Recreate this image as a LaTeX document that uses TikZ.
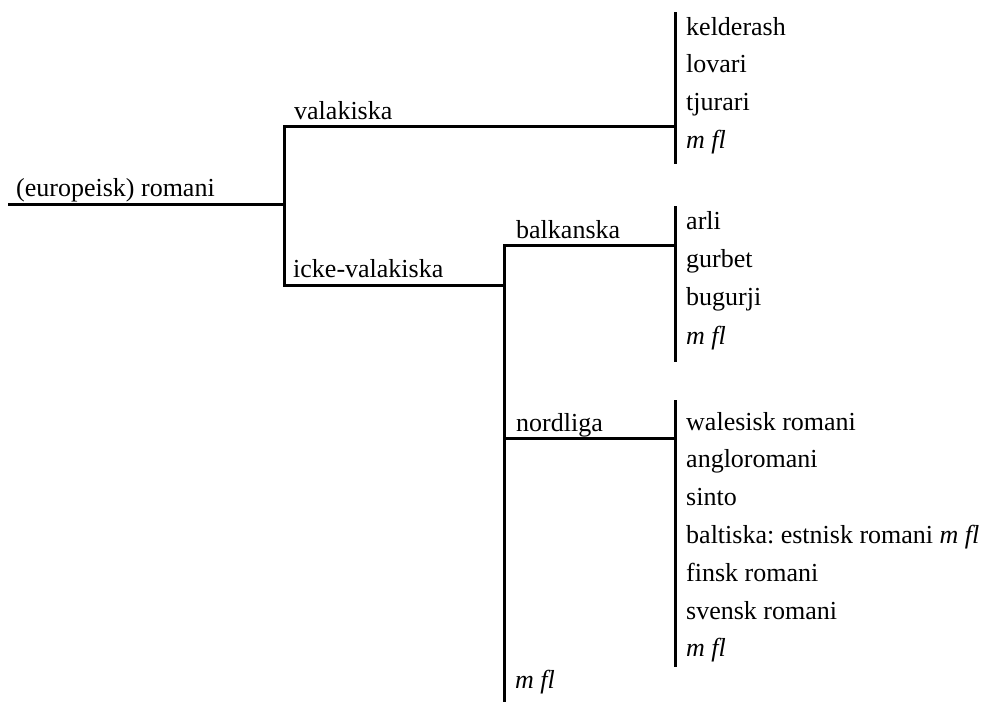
\documentclass[tikz,border=0pt]{standalone}
\usepackage{fontspec}
\setmainfont{Liberation Serif}
\frenchspacing
\begin{document}
\begin{tikzpicture}[x=1pt,y=-1pt,
  br/.style={line width=3pt,line join=miter},
  lab/.style={anchor=base west,inner sep=0pt,font=\fontsize{26}{30}\selectfont}]
\useasboundingbox (0,0) rectangle (988,702);
% junction coordinates
\coordinate (r0) at (8,204);
\coordinate (r1) at (284,204);
\coordinate (v0) at (284,126);
\coordinate (v1) at (675,126);
\coordinate (vt) at (675,12);
\coordinate (vb) at (675,164);
\coordinate (i0) at (284,285);
\coordinate (i1) at (504,285);
\coordinate (m0) at (504,245);
\coordinate (mb) at (504,702);
\coordinate (b1) at (675,245);
\coordinate (bt) at (675,206);
\coordinate (bb) at (675,362);
\coordinate (n0) at (504,438);
\coordinate (n1) at (675,438);
\coordinate (nt) at (675,400);
\coordinate (nb) at (675,667);
% branches
\draw[br] (r0) -- (r1);
\draw[br] (v1) -- (v0) -- (i0) -- (i1);
\draw[br] (vt) -- (vb);
\draw[br] (b1) -- (m0) -- (mb);
\draw[br] (bt) -- (bb);
\draw[br] (n0) -- (n1);
\draw[br] (nt) -- (nb);
% labels
\node[lab] (root) at (16,196) {(europeisk) romani};
\node[lab] (val) at (294,119) {valakiska};
\node[lab] (icke) at (293,277) {icke-valakiska};
\node[lab] (balk) at (516,238) {balkanska};
\node[lab] (nord) at (516,431) {nordliga};
\node[lab] (mfl0) at (515,688) {\textit{m fl}};
% valakiska leaves
\node[lab] (v-a) at (686,35) {kelderash};
\node[lab] (v-b) at (686,72.8) {lovari};
\node[lab] (v-c) at (686,110.6) {tjurari};
\node[lab] (v-d) at (686,148.4) {\textit{m fl}};
% balkanska leaves
\node[lab] (b-a) at (686,229) {arli};
\node[lab] (b-b) at (686,267.4) {gurbet};
\node[lab] (b-c) at (686,305.8) {bugurji};
\node[lab] (b-d) at (686,344.2) {\textit{m fl}};
% nordliga leaves
\node[lab] (n-a) at (686,430) {walesisk romani};
\node[lab] (n-b) at (686,467.8) {angloromani};
\node[lab] (n-c) at (686,505.6) {sinto};
\node[lab] (n-d) at (686,543.4) {baltiska: estnisk romani \textit{m fl}};
\node[lab] (n-e) at (686,581.2) {finsk romani};
\node[lab] (n-f) at (686,619) {svensk romani};
\node[lab] (n-g) at (686,656.8) {\textit{m fl}};
\end{tikzpicture}
\end{document}
